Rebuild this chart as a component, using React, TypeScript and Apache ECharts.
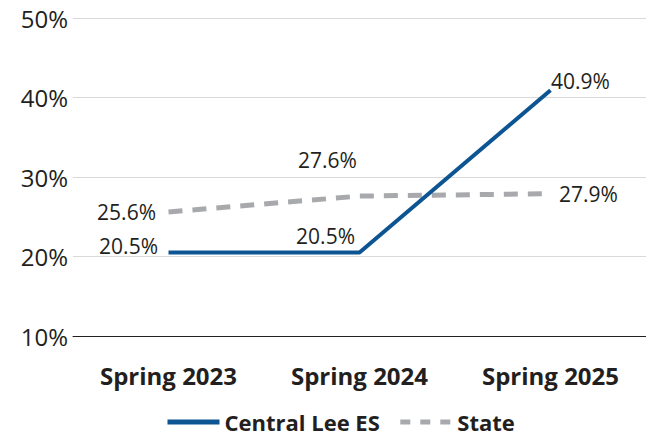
import React, { useEffect, useRef } from "react";
import * as echarts from "echarts";

const categories = ["Spring 2023", "Spring 2024", "Spring 2025"];
const centralLee = [20.5, 20.5, 40.9];
const stateValues = [25.6, 27.6, 27.9];
const yTicks = { min: 10, max: 50, interval: 10 };

const BLUE = "#0D5592";
const GRAY = "#A7A9AC";
const TEXT = "#231F20";
const FONT = "'Open Sans', 'Noto Sans', sans-serif";

// label layouts per point (styles only)
const blueLabelLayout = [
  { position: "left", distance: 10, offset: [0, -7] },
  { position: "left", distance: 4, offset: [0, -17] },
  { position: "right", distance: 0, offset: [0, -9] },
];
const grayLabelLayout = [
  { position: "left", distance: 12, offset: [0, 0] },
  { position: "top", distance: 5, offset: [-32, -20] },
  { position: "right", distance: 8, offset: [0, 0] },
];

export default function App() {
  const ref = useRef<HTMLDivElement>(null);
  useEffect(() => {
    if (!ref.current) return;
    const chart = echarts.init(ref.current, null, { renderer: "svg" });
    const labelBase = {
      show: true,
      color: TEXT,
      opacity: 1,
      fontFamily: FONT,
      fontSize: 21,
      formatter: (p: any) => p.value.toFixed(1) + "%",
    };
    chart.setOption({
      animation: false,
      textStyle: { fontFamily: FONT, color: TEXT },
      grid: { left: 73, right: 0, top: 18, bottom: 100 },
      legend: {
        left: 160,
        top: 405,
        itemWidth: 52,
        itemHeight: 14,
        itemGap: 18,
        itemStyle: { color: "transparent", borderWidth: 0 },
        textStyle: { fontFamily: FONT, fontSize: 22, fontWeight: "bold", color: TEXT, lineHeight: 24 },
        data: [
          { name: "Central Lee ES", lineStyle: { color: BLUE, width: 5, type: "solid" } },
          { name: "State", lineStyle: { color: GRAY, width: 5, type: [10, 10] } },
        ],
      },
      xAxis: {
        type: "category",
        data: categories,
        axisLine: { lineStyle: { color: TEXT, width: 1 } },
        axisTick: { show: false },
        axisLabel: { margin: 27, fontFamily: FONT, fontSize: 24, fontWeight: "bold", color: TEXT },
      },
      yAxis: {
        type: "value",
        min: yTicks.min,
        max: yTicks.max,
        interval: yTicks.interval,
        axisLine: { show: false },
        axisTick: { show: false },
        splitLine: { lineStyle: { color: "#D9D9D9", width: 1 } },
        axisLabel: { margin: 5, fontFamily: FONT, fontSize: 24, color: TEXT, formatter: "{value}%" },
      },
      series: [
        {
          name: "State",
          type: "line",
          symbol: "circle",
          symbolSize: 1,
          showSymbol: true,
          z: 2,
          lineStyle: { color: GRAY, width: 5, type: [14, 10] },
          itemStyle: { color: "transparent", borderWidth: 0 },
          data: stateValues.map((v, i) => ({
            value: v,
            label: { ...labelBase, ...grayLabelLayout[i] },
          })),
        },
        {
          name: "Central Lee ES",
          type: "line",
          symbol: "circle",
          symbolSize: 1,
          showSymbol: true,
          z: 3,
          lineStyle: { color: BLUE, width: 4 },
          itemStyle: { color: "transparent", borderWidth: 0 },
          data: centralLee.map((v, i) => ({
            value: v,
            label: { ...labelBase, ...blueLabelLayout[i] },
          })),
        },
      ],
    });
    return () => chart.dispose();
  }, []);
  return <div ref={ref} style={{ width: 646, height: 436, position: "absolute", left: 0, top: 0 }} />;
}
